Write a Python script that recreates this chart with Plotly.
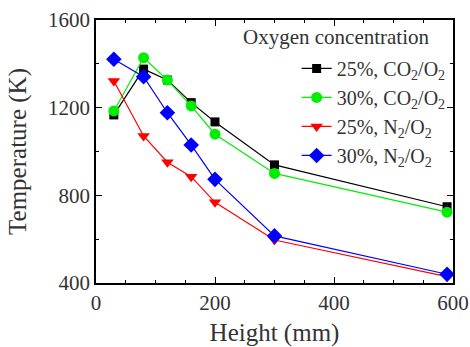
import plotly.graph_objects as go

heights = [30, 80, 120, 160, 200, 300, 590]
co2_25 = [1167, 1376, 1326, 1223, 1135, 939, 748]
co2_30 = [1185, 1428, 1326, 1208, 1079, 900, 723]
n2_25 = [1322, 1071, 951, 885, 768, 596, 429]
n2_30 = [1421, 1341, 1177, 1030, 873, 615, 440]

names = ["25%, CO<sub>2</sub>/O<sub>2</sub>", "30%, CO<sub>2</sub>/O<sub>2</sub>",
         "25%, N<sub>2</sub>/O<sub>2</sub>", "30%, N<sub>2</sub>/O<sub>2</sub>"]
series = [co2_25, co2_30, n2_25, n2_30]
colors = ["#000000", "#00ee00", "#ff0000", "#0000ff"]
symbols = ["square", "circle", "triangle-down", "diamond"]
sizes = [9, 11, 11, 12]

FONT = "Times New Roman, Liberation Serif, serif"
FS = 21
LFS = 20
fig = go.Figure()
for n, s, c, sym, sz in zip(names, series, colors, symbols, sizes):
    fig.add_trace(go.Scatter(x=heights, y=s, name=n, mode="lines+markers",
                             line=dict(color=c, width=1.2),
                             marker=dict(symbol=sym, size=sz, color=c),
                             cliponaxis=False))

fig.update_layout(
    width=470, height=347,
    margin=dict(l=96, r=17, t=20, b=64),
    plot_bgcolor="white", paper_bgcolor="white",
    font=dict(family=FONT, size=FS, color="#333333"),
    showlegend=True,
    legend=dict(x=0.562, y=0.89, xanchor="left", yanchor="top",
                bgcolor="rgba(0,0,0,0)", font=dict(size=LFS, family=FONT, color="#333333"),
                itemwidth=30, tracegroupgap=0),
    annotations=[dict(text="Oxygen concentration", x=0.94, y=0.99, xref="paper", yref="paper",
                      xanchor="right", yanchor="top", showarrow=False,
                      font=dict(size=FS, family=FONT, color="#333333"))],
)
fig.update_xaxes(range=[0, 600], tickvals=[0, 200, 400, 600], ticks="inside", ticklen=6,
                 showline=True, linecolor="black", linewidth=1.5, mirror="allticks",
                 showgrid=False, zeroline=False, automargin=False,
                 minor=dict(dtick=50, ticks="inside", ticklen=3, tickcolor="black", showgrid=False),
                 title=dict(text="Height (mm)", standoff=10), tickcolor="black")
fig.update_yaxes(range=[400, 1600], tickvals=[400, 800, 1200, 1600], ticks="inside", ticklen=6,
                 showline=True, linecolor="black", linewidth=1.5, mirror="allticks",
                 showgrid=False, zeroline=False, automargin=False,
                 minor=dict(dtick=200, ticks="inside", ticklen=3, tickcolor="black", showgrid=False),
                 title=dict(text="Temperature (K)", standoff=14), tickcolor="black")

fig.write_html("out.html", config={"displayModeBar": False},
               post_script="document.body.style.margin='0';document.body.style.overflow='hidden';")
